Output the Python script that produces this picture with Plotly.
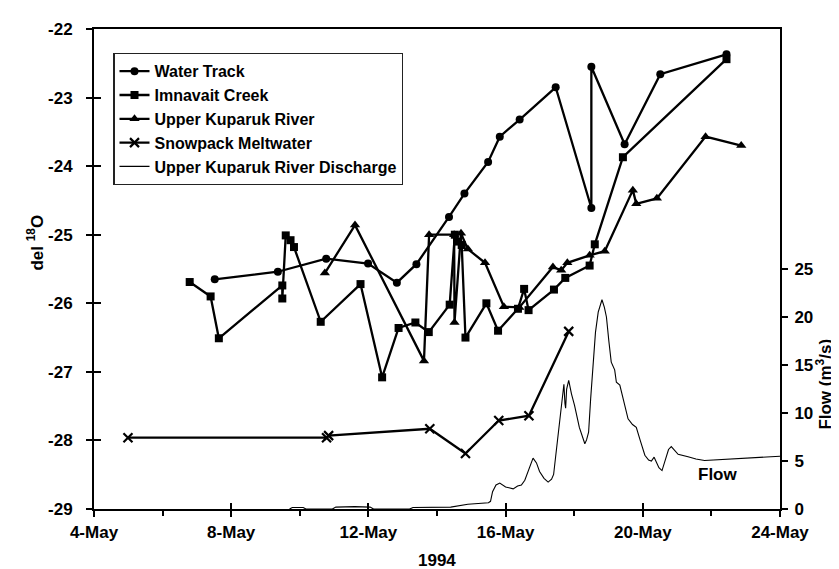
import pandas as pd
import plotly.graph_objects as go

# ---------------- data (day of May 1994, del 18O) ----------------
wt_days = [7.52, 9.36, 10.77, 11.99, 12.83, 13.40, 14.35, 14.80, 15.49, 15.83, 16.41,
           17.46, 18.50, 18.50, 19.47, 20.51, 22.44]
wt_del = [-25.65, -25.54, -25.35, -25.42, -25.70, -25.43, -24.74, -24.40, -23.94, -23.57,
          -23.32, -22.85, -24.61, -22.55, -23.68, -22.66, -22.37]

ic_days = [6.79, 7.40, 7.64, 9.49, 9.49, 9.59, 9.73, 9.83, 10.61, 11.77, 12.40, 12.88,
           13.37, 13.76, 14.37, 14.52, 14.62, 14.72, 14.83, 15.44, 15.78, 16.36, 16.54,
           16.67, 17.41, 17.74, 18.45, 18.60, 19.42, 22.44]
ic_del = [-25.69, -25.90, -26.51, -25.74, -25.93, -25.01, -25.08, -25.18, -26.27, -25.72,
          -27.08, -26.36, -26.28, -26.42, -26.02, -25.00, -25.10, -25.15, -26.50, -26.00,
          -26.40, -26.08, -25.79, -26.10, -25.80, -25.63, -25.45, -25.14, -23.87, -22.44]

ukr_days = [10.73, 11.61, 13.62, 13.77, 14.50, 14.51, 14.70, 14.90, 15.40, 15.95, 16.40,
            17.38, 17.62, 17.80, 18.45, 18.89, 19.71, 19.81, 20.41, 21.83, 22.87]
ukr_del = [-25.56, -24.86, -26.84, -25.00, -25.00, -26.28, -24.98, -25.21, -25.41, -26.05,
           -26.06, -25.47, -25.52, -25.41, -25.30, -25.24, -24.35, -24.55, -24.47, -23.57,
           -23.70]

snow_days = [4.99, 10.78, 10.84, 13.79, 14.83, 15.80, 16.68, 17.84]
snow_del = [-27.96, -27.96, -27.93, -27.83, -28.19, -27.71, -27.64, -26.41]

flow_days = [9.70, 9.78, 10.10, 10.18, 10.95, 11.05, 11.60, 12.05, 12.15, 13.20, 13.30,
             14.00, 14.40, 14.90, 15.20, 15.50, 15.56, 15.62, 15.72, 15.83, 16.00, 16.22,
             16.35, 16.46, 16.56, 16.68, 16.80, 16.90, 16.99, 17.12, 17.24, 17.34, 17.40,
             17.46, 17.52, 17.60, 17.66, 17.70, 17.73, 17.75, 17.78, 17.84, 17.92, 18.01,
             18.15, 18.31, 18.36, 18.42, 18.48, 18.55, 18.62, 18.70, 18.81, 18.88, 18.94,
             19.01, 19.08, 19.18, 19.23, 19.33, 19.45, 19.57, 19.70, 19.81, 19.92, 20.06,
             20.17, 20.25, 20.33, 20.40, 20.47, 20.56, 20.66, 20.75, 20.83, 20.93, 21.03,
             21.32, 21.55, 21.80, 22.50, 23.20, 24.00]
flow_vals = [0.0, 0.15, 0.15, 0.0, 0.0, 0.2, 0.25, 0.2, 0.0, 0.0, 0.15,
             0.15, 0.2, 0.5, 0.6, 0.65, 0.8, 1.8, 2.5, 2.7, 2.3, 2.1,
             2.4, 2.5, 3.0, 4.2, 5.3, 4.8, 3.9, 3.2, 2.8, 3.1, 3.6,
             5.5, 7.5, 10.0, 12.0, 13.0, 11.0, 10.5, 12.5, 13.4, 12.0, 10.8,
             8.5, 6.8, 7.2, 8.0, 11.5, 14.8, 18.4, 20.5, 21.8, 21.0, 20.0,
             17.5, 15.3, 14.5, 13.2, 12.9, 11.0, 9.4, 8.8, 8.5, 7.2, 5.6,
             5.1, 5.0, 5.4, 4.8, 4.3, 4.0, 5.2, 6.2, 6.5, 6.1, 5.7,
             5.45, 5.2, 5.05, 5.2, 5.4, 5.5]

x_tick_days = [4, 8, 12, 16, 20, 24]
x_tick_labels = ["4-May", "8-May", "12-May", "16-May", "20-May", "24-May"]
x_minor_days = [6, 10, 14, 18, 22]
y_ticks = [-29, -28, -27, -26, -25, -24, -23, -22]
y_tick_labels = ["-29", "-28", "-27", "-26", "-25", "-24", "-23", "-22"]
flow_ticks = [0, 5, 10, 15, 20, 25]
flow_tick_labels = ["0", "5", "10", "15", "20", "25"]

# ---------------- helpers ----------------
BASE = pd.Timestamp("1994-05-01")


def to_dt(days):
    return [BASE + pd.Timedelta(days=d - 1) for d in days]


FONT = "Liberation Sans, Arial, sans-serif"
BLACK = "#000000"
x_range = to_dt([4, 24])

fig = go.Figure()

fig.add_trace(go.Scatter(x=to_dt(wt_days), y=wt_del, name="Water Track", mode="lines+markers",
                         line=dict(color=BLACK, width=2.3),
                         marker=dict(symbol="circle", size=8, color=BLACK)))
fig.add_trace(go.Scatter(x=to_dt(ic_days), y=ic_del, name="Imnavait Creek", mode="lines+markers",
                         line=dict(color=BLACK, width=2.3),
                         marker=dict(symbol="square", size=8, color=BLACK)))
fig.add_trace(go.Scatter(x=to_dt(ukr_days), y=ukr_del, name="Upper Kuparuk River",
                         mode="lines+markers", line=dict(color=BLACK, width=2.3),
                         marker=dict(symbol="triangle-up", size=9, color=BLACK)))
fig.add_trace(go.Scatter(x=to_dt(snow_days), y=snow_del, name="Snowpack Meltwater",
                         mode="lines+markers", line=dict(color=BLACK, width=2.3),
                         marker=dict(symbol="x-thin", size=9, color=BLACK,
                                     line=dict(color=BLACK, width=2.2))))
fig.add_trace(go.Scatter(x=to_dt(flow_days), y=flow_vals, name="Upper Kuparuk River Discharge",
                         mode="lines", line=dict(color=BLACK, width=1.1), yaxis="y2"))
# empty traces that carry the inner halves of the crossing tick marks
fig.add_trace(go.Scatter(x=[], y=[], xaxis="x2", yaxis="y", showlegend=False, hoverinfo="skip"))
fig.add_trace(go.Scatter(x=[], y=[], xaxis="x", yaxis="y3", showlegend=False, hoverinfo="skip"))

tickfont = dict(family=FONT, size=17, color=BLACK, weight="bold")

fig.update_layout(
    width=839, height=569,
    margin=dict(l=86, r=67, t=18, b=68),
    paper_bgcolor="white", plot_bgcolor="white",
    font=dict(family=FONT, size=17, color=BLACK),
    showlegend=True,
    legend=dict(x=0.028, y=0.950, xanchor="left", yanchor="top",
                bgcolor="white", bordercolor="#222222", borderwidth=1.3,
                font=dict(family=FONT, size=16, color=BLACK, weight="bold"),
                itemwidth=30, tracegroupgap=0),
    xaxis=dict(type="date", range=x_range, tickvals=to_dt(x_tick_days), ticktext=x_tick_labels,
               ticks="outside", ticklen=6, tickwidth=2, tickcolor=BLACK,
               minor=dict(tickvals=to_dt(x_minor_days), ticks="outside", ticklen=5,
                          tickwidth=1.5, tickcolor=BLACK),
               showline=True, linewidth=2, linecolor=BLACK, mirror=True,
               showgrid=False, zeroline=False, tickfont=tickfont, ticklabelstandoff=1),
    xaxis2=dict(type="date", range=x_range, overlaying="x", anchor="y", side="bottom",
                tickvals=to_dt(x_tick_days), ticks="inside", ticklen=6, tickwidth=2,
                tickcolor=BLACK, showticklabels=False, showline=False, showgrid=False,
                zeroline=False),
    yaxis=dict(range=[-29, -22], tickvals=y_ticks, ticktext=y_tick_labels,
               ticks="outside", ticklen=6, tickwidth=2,
               tickcolor=BLACK, showline=True, linewidth=2, linecolor=BLACK,
               showgrid=False, zeroline=False, tickfont=tickfont, ticklabelstandoff=10),
    yaxis3=dict(range=[-29, -22], overlaying="y", anchor="x", side="left",
                tickvals=y_ticks, ticks="inside", ticklen=7, tickwidth=2, tickcolor=BLACK,
                showticklabels=False, showline=False, showgrid=False, zeroline=False),
    yaxis2=dict(range=[0, 50], overlaying="y", anchor="x", side="right",
                tickvals=flow_ticks, ticktext=flow_tick_labels,
                ticks="outside", ticklen=6, tickwidth=2, tickcolor=BLACK,
                showline=True, linewidth=2, linecolor=BLACK, showgrid=False, zeroline=False,
                tickfont=tickfont, ticklabelstandoff=3),
)

ann_font = dict(family=FONT, size=17, color=BLACK, weight="bold")
fig.add_annotation(text="1994", xref="paper", yref="paper", x=0.5, y=-0.108,
                   xanchor="center", yanchor="middle", showarrow=False, font=ann_font)
fig.add_annotation(text="del <sup>18</sup>O", xref="paper", yref="paper", x=-0.086, y=0.555,
                   xanchor="center", yanchor="middle", textangle=-90, showarrow=False,
                   font=ann_font)
fig.add_annotation(text="Flow (m<sup>3</sup>/s)", xref="paper", yref="paper", x=1.064, y=0.261,
                   xanchor="center", yanchor="middle", textangle=-90, showarrow=False,
                   font=ann_font)
fig.add_annotation(text="Flow", xref="x", yref="y2", x=to_dt([22.17])[0], y=3.6,
                   xanchor="center", yanchor="middle", showarrow=False, font=ann_font)

fig.write_html("out.html")
